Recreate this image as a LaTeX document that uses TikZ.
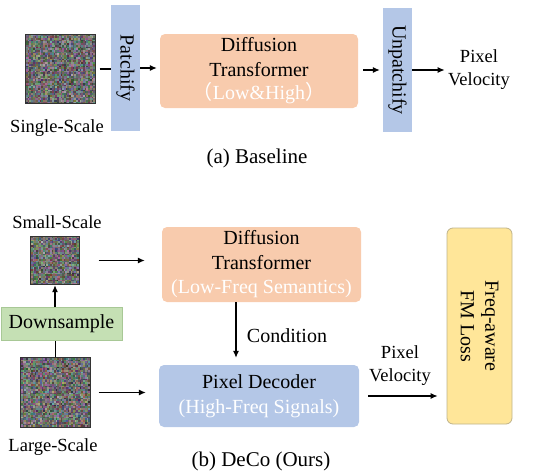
\documentclass[tikz,border=0pt]{standalone}
\usepackage{fontspec}
\setmainfont{Liberation Serif}
\newfontfamily\cjk{Noto Sans CJK SC}
\usetikzlibrary{arrows.meta}

\definecolor{ditfill}{HTML}{F8CBAD}
\definecolor{decfill}{HTML}{B4C7E7}
\definecolor{downfill}{HTML}{C5E0B4}
\definecolor{downline}{HTML}{A8C896}
\definecolor{lossfill}{HTML}{FFE699}
\definecolor{lossline}{HTML}{BFB38A}

\newcommand\boxfont{\fontsize{20}{24.5}\selectfont}
\newcommand\labelfont{\fontsize{18.5}{23}\selectfont}
\newcommand\capfont{\fontsize{21}{25}\selectfont}

% random-colour noise tile with a framed node on top
\newcommand\ncell{1.73}
\newcommand\noisesq[4]{% name, centre x, centre y, cells per side
  \pgfmathsetmacro\nside{#4*\ncell}
  \foreach \i in {1,...,#4}{\foreach \j in {1,...,#4}{
    \pgfmathsetmacro\nl{0.3+0.26*rnd}
    \pgfmathsetmacro\nr{\nl+0.3*(rnd-0.5)}
    \pgfmathsetmacro\ng{\nl+0.3*(rnd-0.5)}
    \pgfmathsetmacro\nb{\nl+0.3*(rnd-0.5)}
    \definecolor{nz}{rgb}{\nr,\ng,\nb}
    \fill[nz] ({#2-\nside/2+(\i-1)*\ncell},{#3-\nside/2+(\j-1)*\ncell}) rectangle ++(\ncell+0.05,\ncell+0.05);
  }}
  \node[noisebox,minimum size=\nside pt] (#1) at (#2,#3) {};}

\tikzset{
  noisebox/.style={draw=black!80,line width=1pt,inner sep=0pt},
  bar/.style={fill=decfill,inner sep=0pt,rotate=-90,font=\boxfont},
  block/.style={rounded corners=5pt,inner sep=0pt,align=center,font=\boxfont},
  lbl/.style={align=center,font=\labelfont},
  captext/.style={font=\capfont},
  arr/.style={line width=1.1pt,-{Latex[length=7pt,width=6pt]}},
  ln/.style={line width=1.1pt},
}

\begin{document}
\begin{tikzpicture}[x=1pt,y=-1pt]
\useasboundingbox (0,0) rectangle (542,474);
\pgfmathsetseed{7}

% ---- (a) baseline ----
\noisesq{sq1}{60.5}{69}{40}
\node[lbl] (single) at (57,128) {Single-Scale};
% bars are rotated clockwise: their south side faces left, north faces right
\node[bar,minimum width=126pt,minimum height=29pt] (patch) at (125.5,68) {Patchify};
\node[block,fill=ditfill,minimum width=198pt,minimum height=74pt] (dit1) at (259,71)
  {Diffusion\\Transformer\\[-1pt]\textcolor{white}{{\cjk （}Low\&High{\cjk ）}}};
\node[bar,minimum width=124pt,minimum height=29pt] (unpatch) at (397.5,70) {Unpatchify};
\node[lbl] (pv1) at (479,70) {Pixel\\Velocity};
\node[captext] (capa) at (257,158) {(a) Baseline};

\draw[ln,shorten <=4pt] (sq1.east) -- (sq1.east -| patch.south);
\draw[arr,shorten >=3pt] (patch.north) -- (patch.north -| dit1.west);
\draw[arr,shorten <=5pt,shorten >=3pt] (dit1.east |- unpatch.center) -- (unpatch.south);
\draw[arr] (unpatch.north) -- (pv1.west);

% ---- (b) DeCo ----
\node[lbl] (small) at (57,222) {Small-Scale};
\noisesq{sq2}{55}{260.5}{28}
\noisesq{sq3}{55.5}{392.5}{40}
\node[lbl] (large) at (53,447) {Large-Scale};
\node[draw=downline,fill=downfill,line width=0.8pt,inner sep=0pt,minimum width=121pt,minimum height=33pt,font=\boxfont] (down) at (61.5,324) {Downsample};

\node[block,fill=ditfill,minimum width=199pt,minimum height=75pt] (dit2) at (261.5,264.5)
  {Diffusion\\Transformer\\\textcolor{white}{(Low-Freq Semantics)}};
\node[block,fill=decfill,minimum width=200pt,minimum height=62pt] (dec) at (259,396)
  {Pixel Decoder\\\textcolor{white}{(High-Freq Signals)}};
\node[font=\boxfont] (cond) at (287,336) {Condition};
\node[draw=lossline,fill=lossfill,line width=0.8pt,rounded corners=6pt,rotate=-90,
  minimum width=196pt,minimum height=65pt,inner sep=0pt,align=center,font=\boxfont] (loss) at (479.5,326)
  {Freq-aware\\FM Loss};
\node[lbl] (pv2) at (400,366) {Pixel\\Velocity};
\node[captext] (capb) at (261,461) {(b) DeCo (Ours)};

\draw[arr,shorten <=19pt,shorten >=17pt] (sq2.east) -- (sq2.east -| dit2.west);
\draw[arr,shorten <=8pt,shorten >=13pt] (sq3.east) -- (sq3.east -| dec.west);
\draw[ln] (sq3.north) -- (sq3.north |- down.south);
\draw[arr] (sq2.south |- down.north) -- (sq2.south);
\draw[arr,shorten >=7pt] ([xshift=-25.5pt]dit2.south) -- ([xshift=-25.5pt]dit2.south |- dec.north);
\draw[arr,shorten <=9pt,shorten >=9pt] (dec.east) -- (dec.east -| loss.south);
\end{tikzpicture}
\end{document}
